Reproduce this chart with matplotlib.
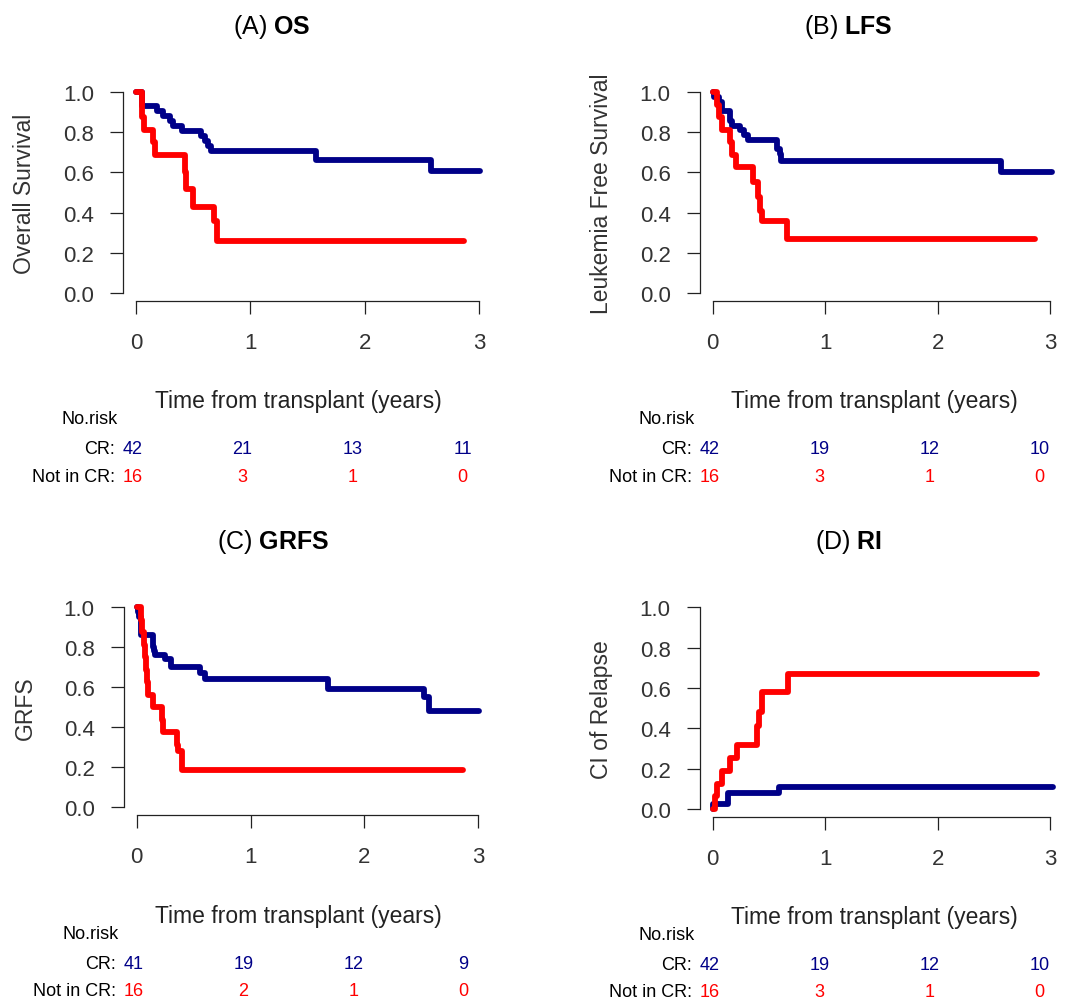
import matplotlib.pyplot as plt

plt.rcParams['font.family'] = ['Liberation Sans', 'DejaVu Sans']
plt.rcParams['mathtext.fontset'] = 'custom'
plt.rcParams['mathtext.rm'] = 'Liberation Sans'
plt.rcParams['mathtext.bf'] = 'Liberation Sans:bold'

# ---- data ----
groups = ['CR:', 'Not in CR:']
risk_times = [0, 1, 2, 3]

# (A) OS
os_cr_t = [0, 0.05, 0.18, 0.24, 0.30, 0.32, 0.40, 0.57, 0.60, 0.63, 0.66, 1.57, 2.58]
os_cr_s = [1.0, 0.93, 0.905, 0.88, 0.855, 0.83, 0.805, 0.78, 0.755, 0.73, 0.705, 0.662, 0.607]
os_nc_t = [0, 0.05, 0.07, 0.15, 0.17, 0.43, 0.44, 0.50, 0.68, 0.71]
os_nc_s = [1.0, 0.875, 0.8125, 0.75, 0.6875, 0.60, 0.515, 0.43, 0.36, 0.258]
os_risk_cr = [42, 21, 13, 11]
os_risk_nc = [16, 3, 1, 0]

# (B) LFS
lfs_cr_t = [0, 0.01, 0.06, 0.08, 0.15, 0.17, 0.24, 0.28, 0.31, 0.57, 0.60, 0.61, 2.56]
lfs_cr_s = [1.0, 0.976, 0.952, 0.905, 0.857, 0.833, 0.81, 0.786, 0.76, 0.714, 0.69, 0.655, 0.60]
lfs_nc_t = [0, 0.04, 0.06, 0.08, 0.15, 0.17, 0.21, 0.36, 0.40, 0.42, 0.44, 0.66]
lfs_nc_s = [1.0, 0.9375, 0.875, 0.8125, 0.75, 0.6875, 0.625, 0.55, 0.48, 0.41, 0.36, 0.27]
lfs_risk_cr = [42, 19, 12, 10]
lfs_risk_nc = [16, 3, 1, 0]

# (C) GRFS
grfs_cr_t = [0, 0.01, 0.02, 0.04, 0.14, 0.15, 0.16, 0.245, 0.30, 0.56, 0.60, 1.68, 2.52, 2.57]
grfs_cr_s = [1.0, 0.976, 0.95, 0.86, 0.80, 0.78, 0.76, 0.74, 0.70, 0.67, 0.64, 0.59, 0.55, 0.48]
grfs_nc_t = [0, 0.04, 0.05, 0.06, 0.07, 0.08, 0.09, 0.10, 0.14, 0.22, 0.235, 0.35, 0.36, 0.40]
grfs_nc_s = [1.0, 0.9375, 0.875, 0.8125, 0.75, 0.6875, 0.625, 0.5625, 0.50, 0.4375, 0.375, 0.31, 0.28, 0.185]
grfs_risk_cr = [41, 19, 12, 9]
grfs_risk_nc = [16, 2, 1, 0]

# (D) RI - cumulative incidence of relapse
ri_cr_t = [0, 0.005, 0.14, 0.59]
ri_cr_s = [0.0, 0.025, 0.077, 0.11]
ri_nc_t = [0, 0.02, 0.036, 0.08, 0.154, 0.214, 0.39, 0.415, 0.436, 0.673]
ri_nc_s = [0.0, 0.0625, 0.125, 0.19, 0.255, 0.315, 0.41, 0.48, 0.58, 0.67]
ri_risk_cr = [42, 19, 12, 10]
ri_risk_nc = [16, 3, 1, 0]

BLUE = '#000088'
RED = '#ff0000'

W, H = 1069, 1004
fig = plt.figure(figsize=(W / 100, H / 100), dpi=100)


def fx(px):
    return px / W


def fy(py):
    return 1 - py / H


def draw_panel(x0, x3, y1, y0, letter, name, ylabel, curves, risk):
    ax = fig.add_axes([fx(x0), fy(y0), (x3 - x0) / W, (y0 - y1) / H])
    ax.patch.set_visible(False)
    for t, s, t_end, color in curves:
        ax.step(t + [t_end], s + [s[-1]], where='post', color=color,
                lw=4.2, clip_on=False, solid_capstyle='round')
    ax.set_xlim(0, 3)
    ax.set_ylim(0, 1)
    ax.spines['top'].set_visible(False)
    ax.spines['right'].set_visible(False)
    ax.spines['left'].set_position(('outward', 13 * 0.72))
    ax.spines['bottom'].set_position(('outward', 8 * 0.72))
    ax.spines['left'].set_bounds(0, 1)
    ax.spines['bottom'].set_bounds(0, 3)
    for sp in ('left', 'bottom'):
        ax.spines[sp].set_linewidth(0.9)
        ax.spines[sp].set_color('#222222')
    ax.set_xticks([0, 1, 2, 3])
    ax.set_yticks([0, 0.2, 0.4, 0.6, 0.8, 1.0])
    ax.set_yticklabels([f'{v:.1f}' for v in [0, 0.2, 0.4, 0.6, 0.8, 1.0]])
    ax.tick_params(length=9.4, width=0.9, color='#222222',
                   labelsize=16, labelcolor='#333333')
    ax.tick_params(axis='y', pad=11.5)
    ax.tick_params(axis='x', pad=13)

    # title, y label, x label
    fig.text(fx(x0 + 136), fy(y1 - 66), f'({letter}) $\\mathbf{{{name}}}$',
             ha='center', va='center', fontsize=18)
    fig.text(fx(x0 - 111), fy((y0 + y1) / 2), ylabel, rotation=90,
             ha='center', va='center', fontsize=16.5, color='#333333')
    fig.text(fx(x0 + 162), fy(y0 + 108), 'Time from transplant (years)',
             ha='center', va='center', fontsize=16.5, color='#222222')

    # numbers at risk table
    fig.text(fx(x0 - 46), fy(y0 + 126), 'No.risk', ha='center',
             va='center', fontsize=13)
    for row, (label, counts, color) in enumerate(zip(groups, risk, [BLUE, RED])):
        yy = fy(y0 + 156 + 27 * row)
        fig.text(fx(x0 - 21), yy, label, ha='right', va='center', fontsize=13)
        for t, n in zip(risk_times, counts):
            fig.text(fx(x0 - 3.5 + t * 110), yy, str(n), ha='center',
                     va='center', fontsize=13, color=color)


draw_panel(136, 479, 93, 294, 'A', 'OS', 'Overall Survival',
           [(os_cr_t, os_cr_s, 3.01, BLUE), (os_nc_t, os_nc_s, 2.87, RED)],
           [os_risk_cr, os_risk_nc])
draw_panel(712.7, 1050, 93, 294, 'B', 'LFS', 'Leukemia Free Survival',
           [(lfs_cr_t, lfs_cr_s, 3.02, BLUE), (lfs_nc_t, lfs_nc_s, 2.87, RED)],
           [lfs_risk_cr, lfs_risk_nc])
draw_panel(136.7, 478.3, 608.3, 808.3, 'C', 'GRFS', 'GRFS',
           [(grfs_cr_t, grfs_cr_s, 3.01, BLUE), (grfs_nc_t, grfs_nc_s, 2.87, RED)],
           [grfs_risk_cr, grfs_risk_nc])
draw_panel(712.7, 1050, 608.3, 810, 'D', 'RI', 'CI of Relapse',
           [(ri_cr_t, ri_cr_s, 3.03, BLUE), (ri_nc_t, ri_nc_s, 2.88, RED)],
           [ri_risk_cr, ri_risk_nc])

fig.savefig('out.png', dpi=100)
